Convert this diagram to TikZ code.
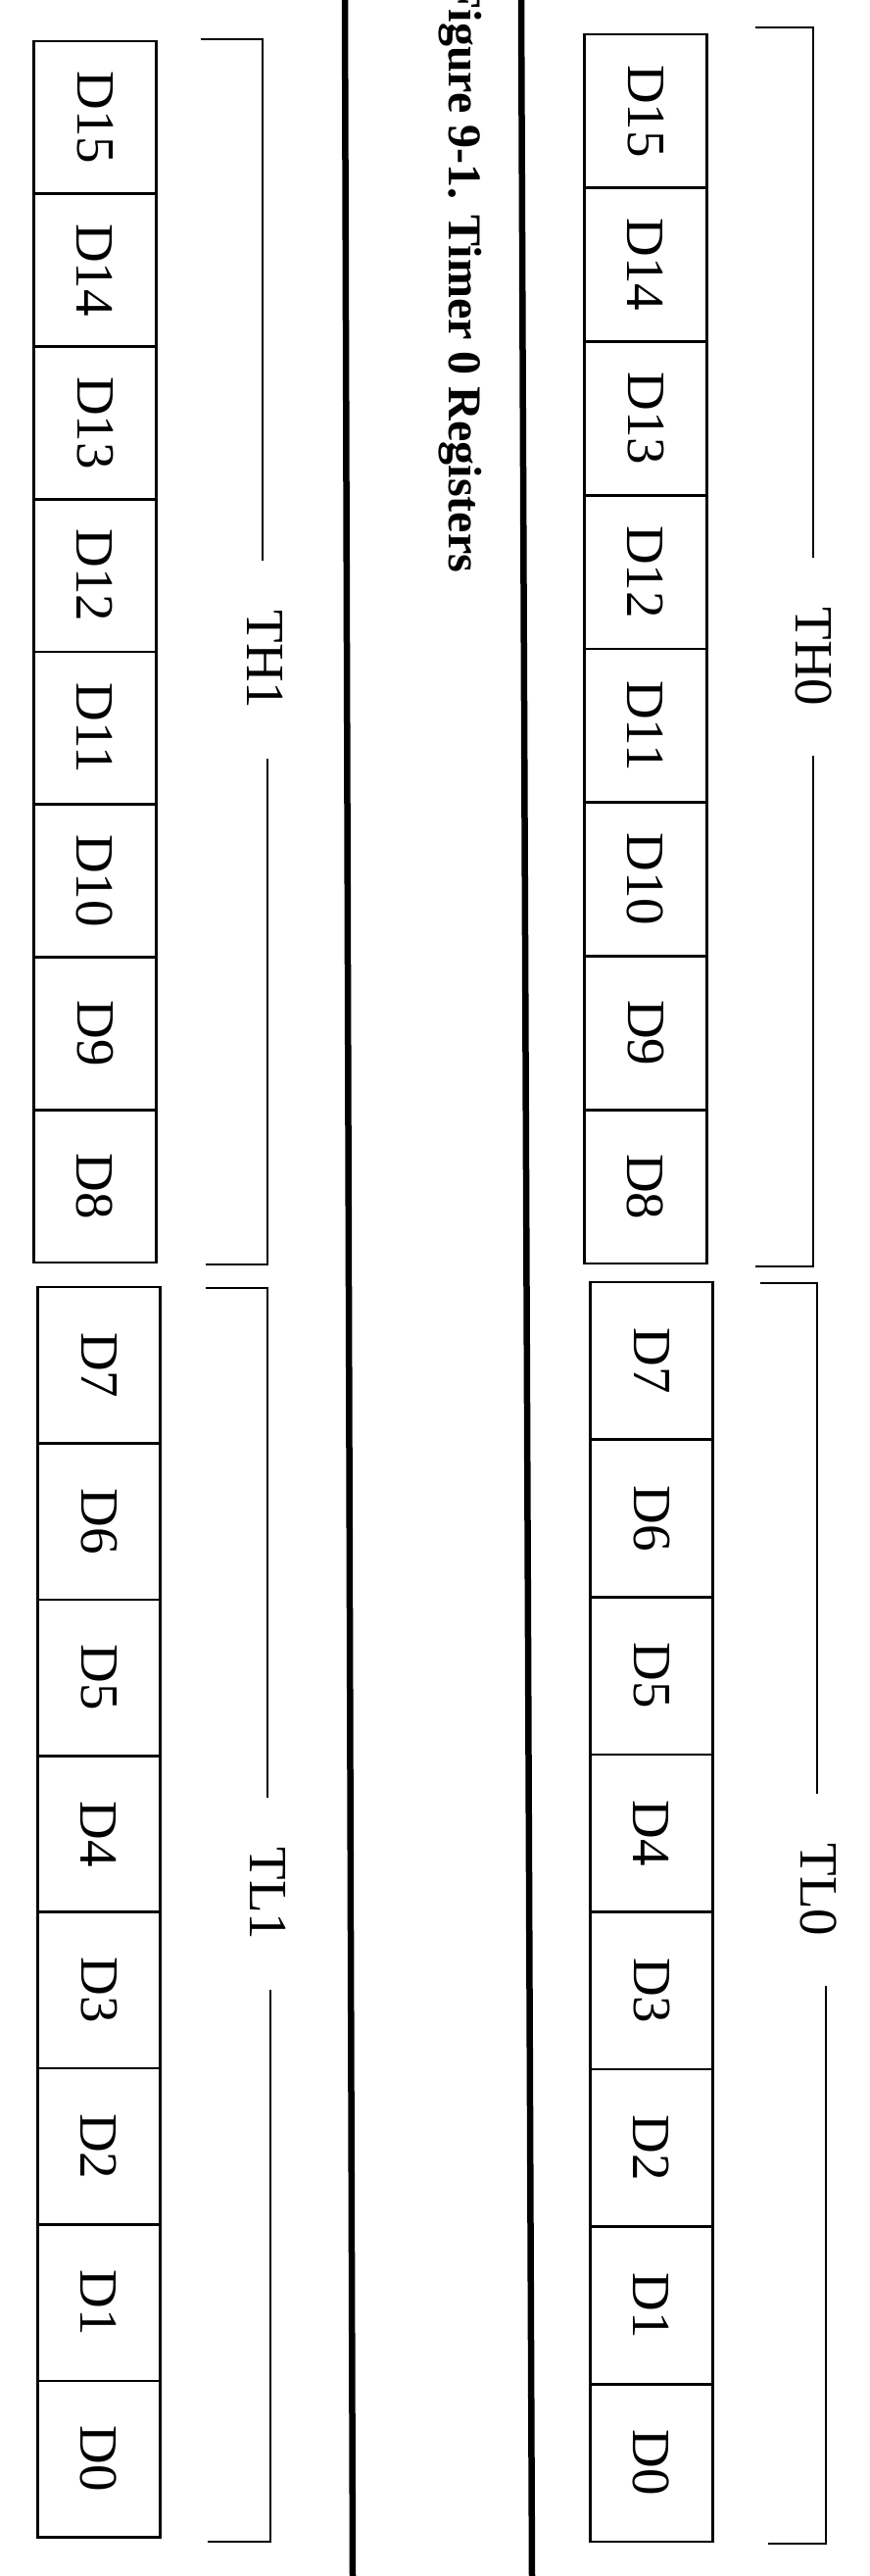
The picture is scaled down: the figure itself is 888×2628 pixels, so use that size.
\documentclass[tikz,border=0pt]{standalone}
\usepackage{fontspec}
\setmainfont{Liberation Serif}
\begin{document}
\begin{tikzpicture}[x=1pt,y=-1pt,
  cell/.style={draw, line width=2.6pt, rotate=-90, minimum width=#1, minimum height=125pt,
    inner sep=0pt, font=\fontsize{55}{60}\selectfont},
  brlabel/.style={rotate=-90, inner xsep=50pt, inner ysep=0pt, font=\fontsize{55}{60}\selectfont},
  bracket/.style={line width=2.6pt},
  rule/.style={line width=6.5pt},
  caption/.style={rotate=-90, anchor=base west, font=\bfseries\fontsize{48}{52}\selectfont}]
\useasboundingbox (0,0) rectangle (888,2628);
\clip (0,0) rectangle (888,2628);
\fill[white] (0,0) rectangle (888,2628);

% right register (TH0 / TL0)
\foreach \i in {15,...,8}{
  \pgfmathsetmacro{\yc}{35+(15-\i+0.5)*156.75}
  \node[cell=156.75pt] (r\i) at (659,\yc) {D\i};
}
\foreach \i in {7,...,0}{
  \pgfmathsetmacro{\yc}{1308+(7-\i+0.5)*160.6}
  \node[cell=160.6pt] (r\i) at (665,\yc) {D\i};
}
% left register (TH1 / TL1)
\foreach \i in {15,...,8}{
  \pgfmathsetmacro{\yc}{42+(15-\i+0.5)*155.75}
  \node[cell=155.75pt] (l\i) at (97,\yc) {D\i};
}
\foreach \i in {7,...,0}{
  \pgfmathsetmacro{\yc}{1313+(7-\i+0.5)*159.4}
  \node[cell=159.4pt] (l\i) at (101,\yc) {D\i};
}

% bracket labels
\node[brlabel] (th0) at (831,670) {TH0};
\node[brlabel] (tl0) at (836,1928) {TL0};
\node[brlabel] (th1) at (271,673) {TH1};
\node[brlabel] (tl1) at (274,1932) {TL1};

% bracket corners
\coordinate (th0a) at (771,28);   \coordinate (th0b) at (830,28);
\coordinate (th0c) at (830,1292); \coordinate (th0d) at (771,1292);
\coordinate (tl0a) at (776,1309); \coordinate (tl0b) at (834,1309);
\coordinate (tl0c) at (843,2595); \coordinate (tl0d) at (784,2595);
\coordinate (th1a) at (205,40);   \coordinate (th1b) at (268,40);
\coordinate (th1c) at (273,1290); \coordinate (th1d) at (210,1290);
\coordinate (tl1a) at (210,1314); \coordinate (tl1b) at (273,1314);
\coordinate (tl1c) at (276,2593); \coordinate (tl1d) at (212,2593);

\draw[bracket] (th0a) -- (th0b) -- (th0b |- th0.west);
\draw[bracket] (th0c |- th0.east) -- (th0c) -- (th0d);
\draw[bracket] (tl0a) -- (tl0b) -- (tl0b |- tl0.west);
\draw[bracket] (tl0c |- tl0.east) -- (tl0c) -- (tl0d);
\draw[bracket] (th1a) -- (th1b) -- (th1b |- th1.west);
\draw[bracket] (th1c |- th1.east) -- (th1c) -- (th1d);
\draw[bracket] (tl1a) -- (tl1b) -- (tl1b |- tl1.west);
\draw[bracket] (tl1c |- tl1.east) -- (tl1c) -- (tl1d);

% heavy rules
\coordinate (v1t) at (352,0);  \coordinate (v1b) at (360,2628);
\coordinate (v2t) at (532,0);  \coordinate (v2b) at (543,2628);
\draw[rule] (v1t) -- (v1b);
\draw[rule] (v2t) -- (v2b);

% caption
\node[caption] (cap) at (458,-23) {Figure 9-1. Timer 0 Registers};
\end{tikzpicture}
\end{document}
